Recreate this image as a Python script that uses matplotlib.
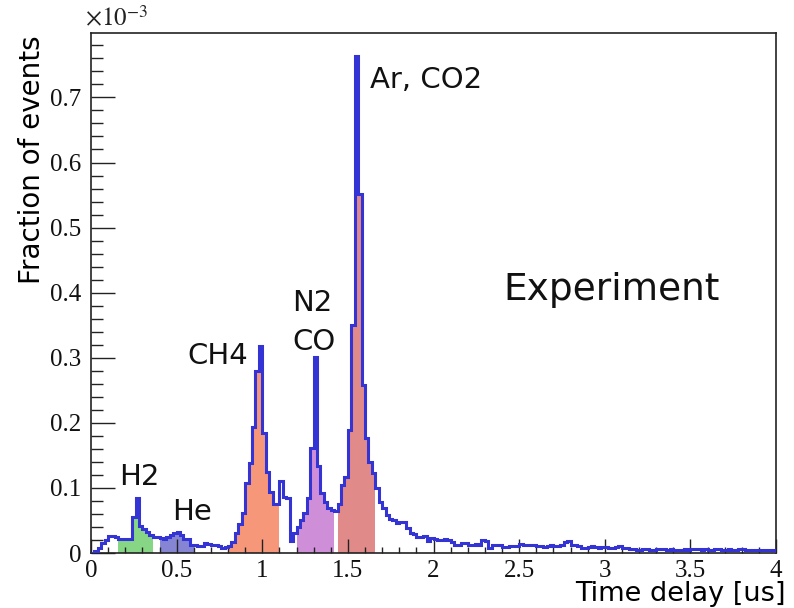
import numpy as np
import matplotlib
matplotlib.use("Agg")
import matplotlib.pyplot as plt
from matplotlib.ticker import MultipleLocator, FixedLocator, FuncFormatter

# Time-delay histogram: 200 bins of 0.02 us between 0 and 4 us.
# Bin contents are fractions of events in units of 1e-3.
bin_edges = np.linspace(0.0, 4.0, 201)

frac_0_to_0p8 = [
    0.000, 0.003, 0.008, 0.015, 0.020, 0.026, 0.026, 0.025, 0.022, 0.021,
    0.021, 0.021, 0.055, 0.084, 0.042, 0.037, 0.032, 0.027, 0.025, 0.025,
    0.023, 0.022, 0.024, 0.027, 0.030, 0.033, 0.027, 0.022, 0.021, 0.013,
    0.012, 0.011, 0.011, 0.015, 0.014, 0.012, 0.012, 0.011, 0.008, 0.009,
]
frac_0p8_to_1p6 = [
    0.011, 0.017, 0.030, 0.045, 0.062, 0.107, 0.138, 0.194, 0.280, 0.318,
    0.184, 0.125, 0.093, 0.076, 0.076, 0.110, 0.086, 0.084, 0.019, 0.030,
    0.040, 0.051, 0.062, 0.085, 0.161, 0.301, 0.133, 0.092, 0.079, 0.069,
    0.066, 0.065, 0.075, 0.104, 0.117, 0.189, 0.351, 0.764, 0.552, 0.258,
]
frac_1p6_to_2p4 = [
    0.177, 0.140, 0.123, 0.100, 0.079, 0.069, 0.058, 0.052, 0.050, 0.046,
    0.047, 0.047, 0.038, 0.030, 0.029, 0.025, 0.024, 0.026, 0.018, 0.023,
    0.022, 0.020, 0.020, 0.021, 0.020, 0.017, 0.013, 0.013, 0.016, 0.015,
    0.012, 0.012, 0.014, 0.013, 0.020, 0.019, 0.007, 0.012, 0.012, 0.012,
]
frac_2p4_to_3p2 = [
    0.009, 0.009, 0.010, 0.011, 0.011, 0.014, 0.012, 0.012, 0.012, 0.012,
    0.011, 0.010, 0.009, 0.011, 0.013, 0.010, 0.010, 0.012, 0.017, 0.018,
    0.013, 0.013, 0.010, 0.008, 0.008, 0.009, 0.010, 0.009, 0.008, 0.009,
    0.009, 0.007, 0.008, 0.009, 0.010, 0.008, 0.007, 0.006, 0.006, 0.005,
]
frac_3p2_to_4 = [
    0.005, 0.006, 0.006, 0.004, 0.004, 0.006, 0.006, 0.006, 0.005, 0.006,
    0.004, 0.005, 0.005, 0.006, 0.005, 0.006, 0.006, 0.006, 0.005, 0.006,
    0.004, 0.005, 0.006, 0.006, 0.004, 0.005, 0.006, 0.005, 0.005, 0.006,
    0.006, 0.005, 0.005, 0.005, 0.005, 0.005, 0.005, 0.004, 0.004, 0.004,
]

# Gas windows shaded under the histogram
gas_names = ["H2", "He", "CH4", "N2/CO", "Ar/CO2"]
gas_lo = [0.16, 0.40, 0.80, 1.20, 1.44]
gas_hi = [0.36, 0.60, 1.10, 1.42, 1.66]
gas_colors = ["#86d686", "#8585d4", "#f7977a", "#cf8fd8", "#e08a8a"]

fraction = np.array(frac_0_to_0p8 + frac_0p8_to_1p6 + frac_1p6_to_2p4
                    + frac_2p4_to_3p2 + frac_3p2_to_4)

plt.rcParams["mathtext.fontset"] = "stix"

fig = plt.figure(figsize=(7.94, 6.08), dpi=100)
ax = fig.add_axes([91 / 794, 55 / 608, 685 / 794, 520 / 608])

left = bin_edges[:-1]
right = bin_edges[1:]
for lo, hi, col in zip(gas_lo, gas_hi, gas_colors):
    sel = (left >= lo - 1e-9) & (right <= hi + 1e-9)
    idx = np.nonzero(sel)[0]
    ax.stairs(fraction[idx], bin_edges[idx[0]:idx[-1] + 2], fill=True,
              color=col, linewidth=0, zorder=1)

ax.stairs(fraction, bin_edges, color="#3434d4", linewidth=2.2, zorder=3)

ax.set_xlim(0, 4)
ax.set_ylim(0, 0.799)

serif = "Liberation Serif"
ax.xaxis.set_major_locator(MultipleLocator(0.5))
ax.xaxis.set_minor_locator(MultipleLocator(0.1))
ax.yaxis.set_major_locator(FixedLocator(np.arange(0, 0.71, 0.1)))
ax.yaxis.set_minor_locator(MultipleLocator(0.02))
fmt = FuncFormatter(lambda v, p: "%g" % round(v, 3))
ax.xaxis.set_major_formatter(fmt)
ax.yaxis.set_major_formatter(fmt)

ax.tick_params(axis="both", which="both", direction="in", top=False,
               right=False, width=1.0, colors="#222222")
ax.tick_params(axis="y", which="major", length=17, pad=7)
ax.tick_params(axis="y", which="minor", length=8.5)
ax.tick_params(axis="x", which="major", length=10, pad=5)
ax.tick_params(axis="x", which="minor", length=4.5)
for lab in ax.get_xticklabels() + ax.get_yticklabels():
    lab.set_fontfamily(serif)
    lab.set_fontsize(18)
    lab.set_color("#111111")

for sp in ax.spines.values():
    sp.set_linewidth(1.2)
    sp.set_color("#222222")

fig.text(85 / 794, (608 - 31) / 608, r"$\times10^{-3}$", fontsize=18,
         ha="left", va="bottom", color="#222222")

fig.text(32 / 794, (608 - 35) / 608, "Fraction of events", rotation=90,
         fontsize=20, ha="center", va="top", family="DejaVu Sans")
fig.text(786 / 794, (608 - 607) / 608, "Time delay [us]", fontsize=19.5,
         ha="right", va="bottom", family="DejaVu Sans")

label_kw = dict(fontsize=21, ha="left", va="baseline", family="DejaVu Sans",
                color="#111111", zorder=5)
ax.text(1.63, 0.714, "Ar, CO2", **label_kw)
ax.text(1.174, 0.372, "N2", **label_kw)
ax.text(1.174, 0.312, "CO", **label_kw)
ax.text(0.561, 0.291, "CH4", **label_kw)
ax.text(0.164, 0.105, "H2", **label_kw)
ax.text(0.473, 0.051, "He", **label_kw)
ax.text(2.406, 0.389, "Experiment", fontsize=27, ha="left", va="baseline",
        family="DejaVu Sans", color="#111111")

fig.savefig("out.png", dpi=100)
